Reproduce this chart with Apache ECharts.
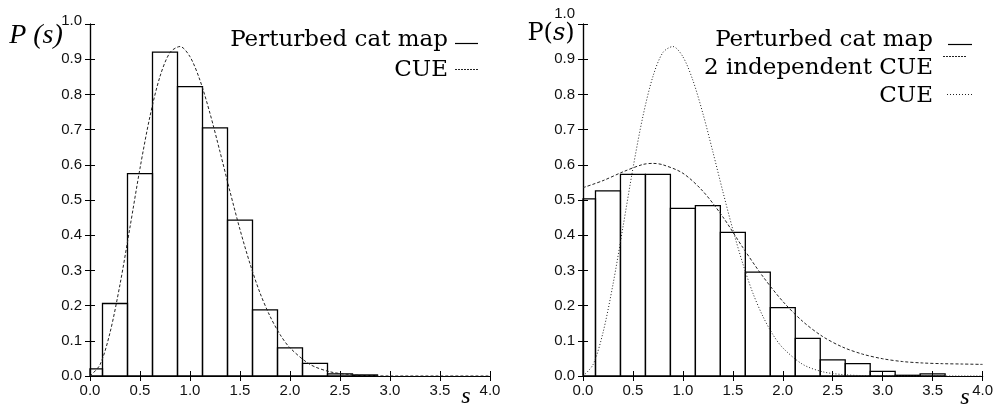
<!DOCTYPE html>
<html>
<head>
<meta charset="utf-8">
<script src="https://cdn.jsdelivr.net/npm/echarts@6/dist/echarts.min.js"></script>
<style>
  html, body { margin: 0; padding: 0; background: #fff; }
  #chart { width: 996px; height: 408px; }
</style>
</head>
<body>
<div id="chart"></div>
<script>
// bin centres, bins are 0.25 wide
const binWidth = 0.25;
const binCentres = [0, 0.25, 0.5, 0.75, 1.0, 1.25, 1.5, 1.75, 2.0, 2.25, 2.5, 2.75, 3.0, 3.25, 3.5, 3.75];
// perturbed cat map histogram, left panel
const catMapLeft = [0.02, 0.206, 0.575, 0.92, 0.822, 0.705, 0.443, 0.188, 0.08, 0.036, 0.006, 0.003, 0, 0, 0, 0];
// perturbed cat map histogram, right panel
const catMapRight = [0.503, 0.526, 0.573, 0.573, 0.476, 0.484, 0.408, 0.295, 0.194, 0.107, 0.046, 0.035, 0.013, 0.002, 0.006, 0];

// CUE curve
const cueS = [0, 0.1, 0.2, 0.3, 0.4, 0.5, 0.6, 0.7, 0.8, 0.9, 1.0, 1.1, 1.2, 1.3, 1.4, 1.5, 1.6, 1.7, 1.8, 1.9, 2.0, 2.2, 2.4, 2.6, 2.8, 3.0, 3.5, 4.0];
const cueP = [0, 0.032, 0.123, 0.26, 0.423, 0.59, 0.738, 0.851, 0.919, 0.936, 0.907, 0.84, 0.746, 0.637, 0.524, 0.416, 0.319, 0.236, 0.17, 0.118, 0.08, 0.033, 0.012, 0.004, 0.001, 0, 0, 0];

// 2 independent CUE curve
const twoCueS = [0, 0.2, 0.4, 0.6, 0.7, 0.8, 1.0, 1.2, 1.4, 1.6, 1.8, 2.0, 2.2, 2.4, 2.6, 2.8, 3.0, 3.2, 3.4, 3.6, 3.8, 4.0];
const twoCueP = [0.535, 0.555, 0.58, 0.601, 0.604, 0.6, 0.576, 0.525, 0.452, 0.365, 0.283, 0.212, 0.155, 0.112, 0.082, 0.062, 0.049, 0.041, 0.037, 0.035, 0.034, 0.033];

const xTicks = { min: 0, max: 4, interval: 0.5 };
const yTicks = { min: 0, max: 1, interval: 0.1 };

const labelFont = { fontFamily: 'Liberation Sans', fontSize: 15, color: '#111' };
const serif = 'DejaVu Serif';

function pairs(xs, ys) {
  return xs.map((x, i) => [x, ys[i]]);
}
function bars(ys) {
  return binCentres.map((x, i) => [x, ys[i]]).filter(d => d[1] > 0);
}

// histogram rectangles, clipped at s = 0
function renderBin(params, api) {
  const c = api.value(0);
  const lo = Math.max(c - binWidth / 2, 0);
  const hi = c + binWidth / 2;
  const p0 = api.coord([lo, api.value(1)]);
  const p1 = api.coord([hi, 0]);
  return {
    type: 'rect',
    shape: { x: p0[0], y: p0[1], width: p1[0] - p0[0], height: p1[1] - p0[1] },
    style: { fill: 'none', stroke: '#000', lineWidth: 1.3 }
  };
}

function xAxes(grid) {
  const base = {
    type: 'value', gridIndex: grid, ...xTicks,
    axisLine: { lineStyle: { color: '#000', width: 1.2 } },
    axisTick: { inside: true, length: 5, lineStyle: { color: '#000' } },
    splitLine: { show: false }
  };
  return [
    { ...base, position: 'bottom', axisLabel: { ...labelFont, margin: 7, formatter: v => v.toFixed(1) } },
    { ...base, position: 'top', axisLabel: { show: false } }
  ];
}
function yAxes(grid, raise) {
  const base = {
    type: 'value', gridIndex: grid, ...yTicks,
    axisLine: { show: true, lineStyle: { color: '#000', width: 1.2 } },
    axisTick: { show: true, inside: true, length: 5, lineStyle: { color: '#000' } },
    splitLine: { show: false }
  };
  return [
    {
      ...base, position: 'left',
      axisLabel: {
        ...labelFont, margin: 8,
        formatter: v => v === 1 ? '{up|1.0}' : v.toFixed(1),
        rich: { up: { ...labelFont, padding: [0, 0, raise, 0] } }
      }
    },
    { ...base, position: 'right', axisLabel: { show: false } }
  ];
}

const option = {
  animation: false,
  grid: [
    { left: 90, top: 24, width: 400, height: 352 },
    { left: 583, top: 24, width: 400, height: 352 }
  ],
  xAxis: [...xAxes(0), ...xAxes(1)],
  yAxis: [...yAxes(0, 6), ...yAxes(1, 20)],
  series: [
    {
      name: 'Perturbed cat map', type: 'custom', xAxisIndex: 0, yAxisIndex: 0,
      renderItem: renderBin, encode: { x: 0, y: 1 }, data: bars(catMapLeft)
    },
    {
      name: 'CUE', type: 'line', xAxisIndex: 0, yAxisIndex: 0, smooth: 0.3,
      showSymbol: false, lineStyle: { color: '#222', width: 1, type: [3, 2] },
      data: pairs(cueS, cueP)
    },
    {
      name: 'Perturbed cat map R', type: 'custom', xAxisIndex: 2, yAxisIndex: 2,
      renderItem: renderBin, encode: { x: 0, y: 1 }, data: bars(catMapRight)
    },
    {
      name: '2 independent CUE', type: 'line', xAxisIndex: 2, yAxisIndex: 2, smooth: 0.3,
      showSymbol: false, lineStyle: { color: '#222', width: 1, type: [3, 2] },
      data: pairs(twoCueS, twoCueP)
    },
    {
      name: 'CUE R', type: 'line', xAxisIndex: 2, yAxisIndex: 2, smooth: 0.3,
      showSymbol: false, lineStyle: { color: '#222', width: 1, type: [1, 2] },
      data: pairs(cueS, cueP)
    }
  ],
  graphic: [
    // axis titles
    { type: 'text', x: 36, y: 36, style: { text: 'P (s)', font: 'italic 28px Liberation Serif', fill: '#000', textAlign: 'center', textVerticalAlign: 'middle' } },
    { type: 'text', x: 551, y: 34, style: { text: 'P({i|s})', font: '24px DejaVu Serif', fill: '#000', textAlign: 'center', textVerticalAlign: 'middle', rich: { i: { fontStyle: 'italic', fontSize: 24, fontFamily: serif } } } },
    { type: 'text', x: 466, y: 397, style: { text: 's', font: 'italic 24px Liberation Serif', fill: '#000', textAlign: 'center', textVerticalAlign: 'middle' } },
    { type: 'text', x: 965, y: 398, style: { text: 's', font: 'italic 24px Liberation Serif', fill: '#000', textAlign: 'center', textVerticalAlign: 'middle' } },
    // left legend
    { type: 'text', x: 448, y: 40, style: { text: 'Perturbed cat map', font: '23px ' + serif, fill: '#000', textAlign: 'right', textVerticalAlign: 'middle' } },
    { type: 'text', x: 448, y: 70, style: { text: 'CUE', font: '23px ' + serif, fill: '#000', textAlign: 'right', textVerticalAlign: 'middle' } },
    { type: 'line', shape: { x1: 455, y1: 43.5, x2: 478, y2: 43.5 }, style: { stroke: '#000', lineWidth: 1.2 } },
    { type: 'line', shape: { x1: 455, y1: 69.5, x2: 478, y2: 69.5 }, style: { stroke: '#222', lineWidth: 1, lineDash: [2, 1] } },
    // right legend
    { type: 'text', x: 933, y: 40, style: { text: 'Perturbed cat map', font: '23px ' + serif, fill: '#000', textAlign: 'right', textVerticalAlign: 'middle' } },
    { type: 'text', x: 933, y: 68, style: { text: '2 independent CUE', font: '23px ' + serif, fill: '#000', textAlign: 'right', textVerticalAlign: 'middle' } },
    { type: 'text', x: 933, y: 96, style: { text: 'CUE', font: '23px ' + serif, fill: '#000', textAlign: 'right', textVerticalAlign: 'middle' } },
    { type: 'line', shape: { x1: 948, y1: 44.5, x2: 972, y2: 44.5 }, style: { stroke: '#000', lineWidth: 1.2 } },
    { type: 'line', shape: { x1: 943, y1: 56.5, x2: 967, y2: 56.5 }, style: { stroke: '#222', lineWidth: 1, lineDash: [2, 1] } },
    { type: 'line', shape: { x1: 947, y1: 94.5, x2: 972, y2: 94.5 }, style: { stroke: '#222', lineWidth: 1, lineDash: [1, 2] } }
  ]
};

const chart = echarts.init(document.getElementById('chart'));
chart.setOption(option);
window.addEventListener('resize', () => chart.resize());
</script>
</body>
</html>
